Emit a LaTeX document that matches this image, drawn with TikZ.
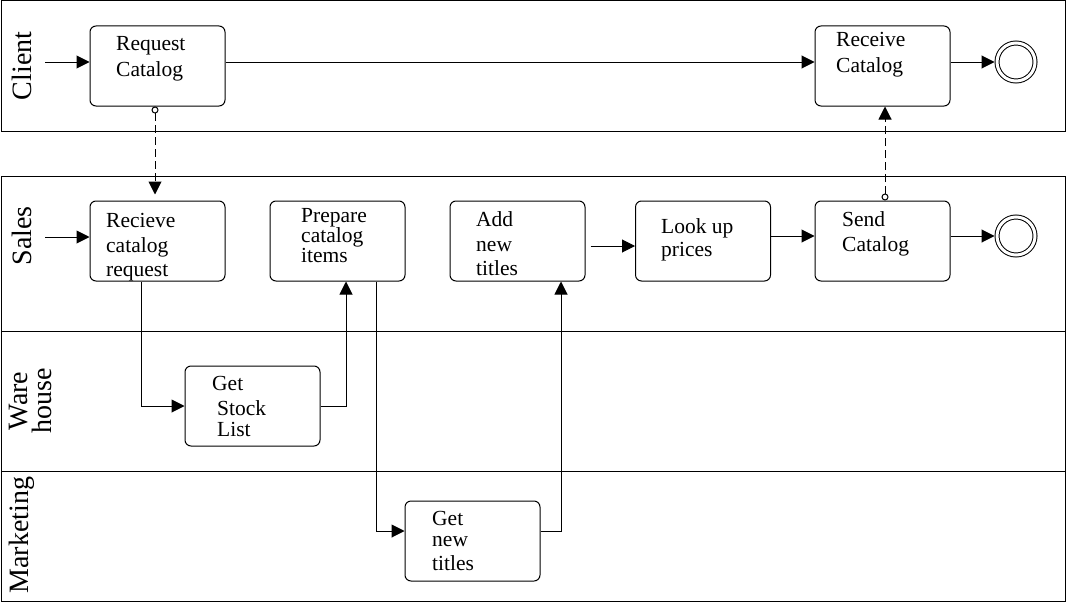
\documentclass[tikz,border=0pt]{standalone}
\usepackage{fontspec}
\setmainfont{Liberation Serif}
\usetikzlibrary{arrows.meta,calc}
\begin{document}
\begin{tikzpicture}[x=1pt,y=-1pt,
  pool/.style={draw, line width=1pt},
  task/.style={draw, rounded corners=6pt, line width=1pt, minimum width=135pt, minimum height=80pt, inner sep=0pt},
  tasktext/.style={font=\fontsize{21.5}{25}\selectfont, align=left, anchor=base west, inner sep=0pt},
  lanelabel/.style={font=\fontsize{28}{24}\selectfont, rotate=90, align=center, inner sep=0pt},
  flow/.style={-{Triangle[length=13pt,width=13pt]}, line width=1pt},
  msg/.style={line width=1pt, dash pattern=on 8pt off 4pt, {Circle[open,length=7pt,width=7pt,sep=0pt]}-{Triangle[length=13pt,width=13pt]}},
  endev/.style={draw, circle, line width=1pt, double, double distance=3pt, minimum size=38pt, inner sep=0pt, outer sep=2.5pt}
]
\useasboundingbox (0,0) rectangle (1067,602);
% pools and lanes
\draw[pool] (1,1) rectangle (1065.5,131);
\draw[pool] (1,176) rectangle (1065.5,601);
\draw[pool] (1,331) -- (1065.5,331);
\draw[pool] (1,471) -- (1065.5,471);
% lane labels
\node[lanelabel] (lclient) at (22,66) {Client};
\node[lanelabel] (lsales) at (22,236) {Sales};
\node[lanelabel] (lware) at (30,401) {Ware\\house};
\node[lanelabel] (lmark) at (22,535) {Marketing};
% tasks
\node[task] (RC) at (157.5,66) {};
\node[task] (RvC) at (882.5,66) {};
\node[task] (RCR) at (157.5,241) {};
\node[task] (PCI) at (337.5,241) {};
\node[task] (ANT) at (517.5,241) {};
\node[task] (LUP) at (703,241) {};
\node[task] (SC) at (882.5,241) {};
\node[task] (GSL) at (252.5,406) {};
\node[task] (GNT) at (472.5,541) {};
% task texts (anchored at the baseline of the last line)
\node[tasktext] (tRC) at (116,76) {Request\\Catalog};
\node[tasktext] (tRvC) at (836,73) {Receive\\[1pt]Catalog};
\node[tasktext] (tRCR) at (106,276) {Recieve\\catalog\\[-1pt]request};
\node[tasktext, font=\fontsize{21.5}{20}\selectfont] (tPCI) at (301,262) {Prepare\\catalog\\items};
\node[tasktext] (tANT) at (476,275) {Add\\new\\[-1pt]titles};
\node[tasktext] (tLUP) at (661,256) {Look up\\[-2pt]prices};
\node[tasktext] (tSC) at (842,251) {Send\\Catalog};
\node[tasktext] (tGSL) at (212,436) {Get\\\hspace*{5pt}Stock\\[-4pt]\hspace*{5pt}List};
\node[tasktext] (tGNT) at (432,570) {Get\\[-4pt]new\\[-1pt]titles};
% end events
\node[endev] (E1) at (1016,62) {};
\node[endev] (E2) at (1016,236) {};
% start flows and coordinates
\coordinate (s1) at (45,62);
\coordinate (s2) at (45,237);
\coordinate (c1) at (141,406);
\coordinate (c2) at (346,406);
\coordinate (c3) at (376,531);
\coordinate (c4) at (561,531);
\coordinate (m1) at (155,0);
\coordinate (m2) at (885,0);
% sequence flows
\draw[flow] (s1) -- (s1 -| RC.west);
\draw[flow] (RC.east |- s1) -- (s1 -| RvC.west);
\draw[flow] (RvC.east |- E1) -- (E1);
\draw[flow] (s2) -- (s2 -| RCR.west);
\draw[flow] ([yshift=-5pt]ANT.east) ++(5,0) -- ([yshift=-5pt]ANT.east -| LUP.west);
\draw[flow] (LUP.east |- E2) -- (SC.west |- E2);
\draw[flow] (SC.east |- E2) -- (E2);
\draw[flow] (c1 |- RCR.south) -- (c1) -- (GSL.west);
\draw[flow] (GSL.east) -- (c2) -- (c2 |- PCI.south);
\draw[flow] (c3 |- PCI.south) -- (c3) -- (GNT.west |- c3);
\draw[flow] (GNT.east |- c4) -- (c4) -- (c4 |- ANT.south);
% message flows
\draw[msg, shorten >=6pt] (m1 |- RC.south) -- (m1 |- RCR.north);
\draw[msg] (m2 |- SC.north) -- (m2 |- RvC.south);
\end{tikzpicture}
\end{document}
